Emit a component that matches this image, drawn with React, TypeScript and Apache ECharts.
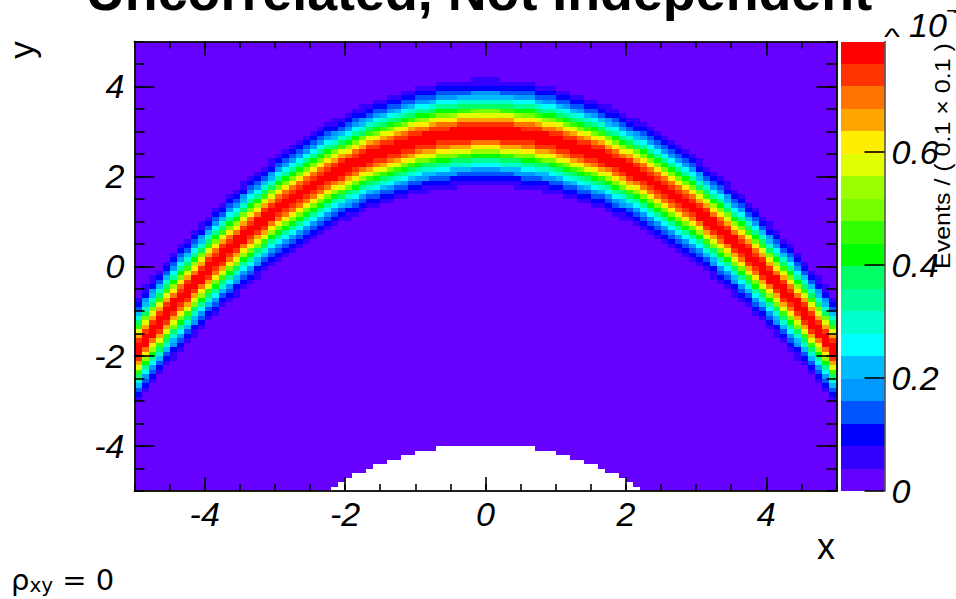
import React, { useEffect, useRef } from "react";
import * as echarts from "echarts";

const titleText = "Uncorrelated, Not Independent";
const zAxisTitle = "Events / ( 0.1 × 0.1 )";
const xTicks = [-4, -2, 0, 2, 4];
const yTicks = [-4, -2, 0, 2, 4];
const zTicks = [0, 0.2, 0.4, 0.6];
const zMax = 0.796;
const binCount = 100;

// 20 contour colours of the palette, bottom to top
const palette = [
  "#6600ff", "#3300ff", "#0000ff", "#0055ff", "#0099ff",
  "#00bbff", "#00ffff", "#00ffcc", "#00ff99", "#00ff66",
  "#00ff00", "#33ff00", "#77ff00", "#99ff00", "#e0ff00",
  "#ffee00", "#ffa500", "#ff7300", "#ff3300", "#ff0000",
];

// ridge height (y) per column, read from |x| = 0.05 outwards to |x| = 4.95
const ridgeByColumn = [
  2.97, 2.97, 2.96, 2.95, 2.93, 2.91, 2.89, 2.86, 2.83, 2.79,
  2.75, 2.71, 2.66, 2.61, 2.56, 2.5, 2.44, 2.37, 2.3, 2.23,
  2.15, 2.07, 1.99, 1.9, 1.81, 1.71, 1.61, 1.51, 1.4, 1.29,
  1.17, 1.05, 0.93, 0.8, 0.67, 0.53, 0.39, 0.25, 0.1, -0.06,
  -0.22, -0.38, -0.54, -0.71, -0.88, -1.06, -1.24, -1.43, -1.62, -1.84,
];
// counts (in 10^7) against distance from the ridge, in steps of 0.025
const ridgeProfile = [
  0.785, 0.784, 0.781, 0.777, 0.77, 0.761, 0.75, 0.738, 0.725, 0.71,
  0.693, 0.675, 0.656, 0.636, 0.615, 0.593, 0.57, 0.543, 0.515, 0.487,
  0.46, 0.435, 0.41, 0.387, 0.365, 0.342, 0.32, 0.3, 0.28, 0.26,
  0.24, 0.222, 0.205, 0.19, 0.175, 0.16, 0.145, 0.132, 0.12, 0.109,
  0.098, 0.089, 0.08, 0.072, 0.064, 0.057, 0.05, 0.044, 0.038, 0.034,
  0.03, 0.026, 0.023, 0.02, 0.017, 0.014, 0.012, 0.01, 0.008, 0.006,
];
const backgroundCount = 0.002;
// half widths, in bins, of the empty patch for the rows from y = -4 down to y = -5
const emptyHalfWidths = [7, 10, 12, 14, 16, 17, 19, 20, 21, 22];

const FONT = "'Liberation Sans', Arial, sans-serif";

function buildCells() {
  const cells: number[][] = [];
  for (let i = 0; i < binCount; i++) {
    const xLow = -5 + i * 0.1;
    const col = i < 50 ? 49 - i : i - 50;
    for (let j = 0; j < binCount; j++) {
      const yLow = -5 + j * 0.1;
      if (j < 10) {
        const half = emptyHalfWidths[9 - j];
        if (i >= 50 - half && i < 50 + half) continue;
      }
      const step = Math.round(Math.abs(yLow + 0.05 - ridgeByColumn[col]) / 0.025);
      const z = step < ridgeProfile.length ? ridgeProfile[step] : backgroundCount;
      cells.push([xLow, xLow + 0.1, yLow, yLow + 0.1, z]);
    }
  }
  return cells;
}

function bandOf(z: number) {
  return Math.min(palette.length - 1, Math.floor((z / zMax) * palette.length));
}

const lineStyle = { color: "#111", width: 1.6 };

function cellRect(x0: number, x1: number, y0: number, y1: number, fill: string, api: any) {
  const a = api.coord([x0, y0]);
  const b = api.coord([x1, y1]);
  const left = Math.round(a[0]);
  const right = Math.round(b[0]);
  const top = Math.round(b[1]);
  const bottom = Math.round(a[1]);
  return {
    type: "rect",
    shape: { x: left, y: top, width: right - left, height: bottom - top },
    style: { fill },
  };
}

function frameAxis(position: string, gridIndex: number, length: number, extra: any = {}) {
  return {
    type: "value",
    gridIndex,
    position,
    min: -5,
    max: 5,
    z: 6,
    splitLine: { show: false },
    axisLine: { show: true, onZero: false, lineStyle },
    axisTick: { show: true, inside: true, length, lineStyle: { color: "#000", width: 1.6 } },
    axisLabel: { show: false },
    ...extra,
  };
}

function labelled(values: number[], margin: number) {
  return {
    show: true,
    customValues: values,
    margin,
    fontFamily: FONT,
    fontStyle: "italic",
    fontSize: 34,
    color: "#000",
    formatter: (v: number) => String(v),
  };
}

export default function App() {
  const ref = useRef<HTMLDivElement>(null);
  useEffect(() => {
    const chart = echarts.init(ref.current!, undefined, { renderer: "svg" });
    const majorTicks = (vals: number[], length: number) => ({
      show: true,
      inside: true,
      length,
      customValues: vals,
      lineStyle: { color: "#000", width: 1.6 },
    });
    const top = 41.5;
    const height = 449.5;
    const contourEdges = palette.map((c, i) => [(i * zMax) / palette.length, ((i + 1) * zMax) / palette.length, i]);

    chart.setOption({
      animation: false,
      backgroundColor: "#fff",
      grid: [
        { left: 134.5, top, width: 702, height, show: false },
        { left: 841, top, width: 43.5, height, show: false },
      ],
      xAxis: [
        frameAxis("bottom", 0, 7, { interval: 0.5, axisLabel: labelled(xTicks, 6) }),
        frameAxis("bottom", 0, 14, { axisTick: majorTicks(xTicks, 14) }),
        frameAxis("top", 0, 7, { interval: 0.5 }),
        frameAxis("top", 0, 14, { axisTick: majorTicks(xTicks, 14) }),
        { type: "value", gridIndex: 1, min: 0, max: 1, show: false },
      ],
      yAxis: [
        frameAxis("left", 0, 10, { interval: 0.5, axisLabel: labelled(yTicks, 10) }),
        frameAxis("left", 0, 20, { axisTick: majorTicks(yTicks, 20) }),
        frameAxis("right", 0, 10, { interval: 0.5 }),
        frameAxis("right", 0, 20, { axisTick: majorTicks(yTicks, 20) }),
        {
          type: "value",
          gridIndex: 1,
          position: "right",
          min: 0,
          max: zMax,
          z: 6,
          splitLine: { show: false },
          axisLine: { show: true, onZero: false, lineStyle: { color: "#555", width: 1.6 } },
          axisTick: majorTicks(zTicks, 20),
          axisLabel: labelled(zTicks, 7),
        },
      ],
      series: [
        {
          type: "custom",
          coordinateSystem: "cartesian2d",
          xAxisIndex: 0,
          yAxisIndex: 0,
          silent: true,
          encode: { x: [0, 1], y: [2, 3] },
          data: buildCells(),
          renderItem: (_: any, api: any) =>
            cellRect(api.value(0), api.value(1), api.value(2), api.value(3), palette[bandOf(api.value(4))], api),
        },
        {
          type: "custom",
          coordinateSystem: "cartesian2d",
          xAxisIndex: 4,
          yAxisIndex: 4,
          silent: true,
          encode: { y: [0, 1] },
          data: contourEdges,
          renderItem: (_: any, api: any) => cellRect(0, 1, api.value(0), api.value(1), palette[api.value(2)], api),
        },
      ],
      graphic: [
        {
          type: "text",
          x: 479,
          y: -9,
          style: { text: titleText, fontFamily: FONT, fontWeight: "bold", fontSize: 53.8, fill: "#000", align: "center", verticalAlign: "middle" },
        },
        {
          type: "text",
          x: 826,
          y: 546,
          style: { text: "x", fontFamily: FONT, fontSize: 36, fill: "#000", align: "center", verticalAlign: "middle" },
        },
        {
          type: "text",
          x: 21,
          y: 50,
          rotation: Math.PI / 2,
          style: { text: "y", fontFamily: FONT, fontSize: 35, fill: "#000", align: "center", verticalAlign: "middle" },
        },
        {
          type: "text",
          x: 943,
          y: 269,
          rotation: Math.PI / 2,
          scaleX: 1.137,
          style: { text: zAxisTitle, fontFamily: FONT, fontSize: 22, fill: "#000", align: "left", verticalAlign: "middle" },
        },
        {
          type: "text",
          x: 884,
          y: 36.5,
          scaleY: 0.7,
          style: { text: "^", fontFamily: FONT, fontSize: 34, fill: "#000", align: "left", verticalAlign: "middle" },
        },
        {
          type: "text",
          x: 909,
          y: 25,
          style: { text: "10", fontFamily: FONT, fontStyle: "italic", fontSize: 34, fill: "#000", align: "left", verticalAlign: "middle" },
        },
        {
          type: "text",
          x: 945,
          y: 17,
          style: { text: "7", fontFamily: FONT, fontStyle: "italic", fontSize: 20, fill: "#000", align: "left", verticalAlign: "middle" },
        },
        { type: "rect", x: 947, y: 13, shape: { x: 0, y: 0, width: 9, height: 16 }, style: { fill: "#fff" } },
        {
          type: "text",
          x: 11,
          y: 580,
          style: {
            text: "{a|ρ}{b|xy}{a| = 0}",
            fill: "#000",
            fontFamily: "DejaVu Sans",
            align: "left",
            verticalAlign: "middle",
            rich: {
              a: { fontFamily: "DejaVu Sans", fontSize: 29, fill: "#000" },
              b: { fontFamily: "DejaVu Sans", fontSize: 20, fill: "#000", verticalAlign: "bottom" },
            },
          },
        },
      ],
    });
    return () => chart.dispose();
  }, []);
  return <div ref={ref} style={{ position: "fixed", left: 0, top: 0, width: 956, height: 599 }} />;
}
